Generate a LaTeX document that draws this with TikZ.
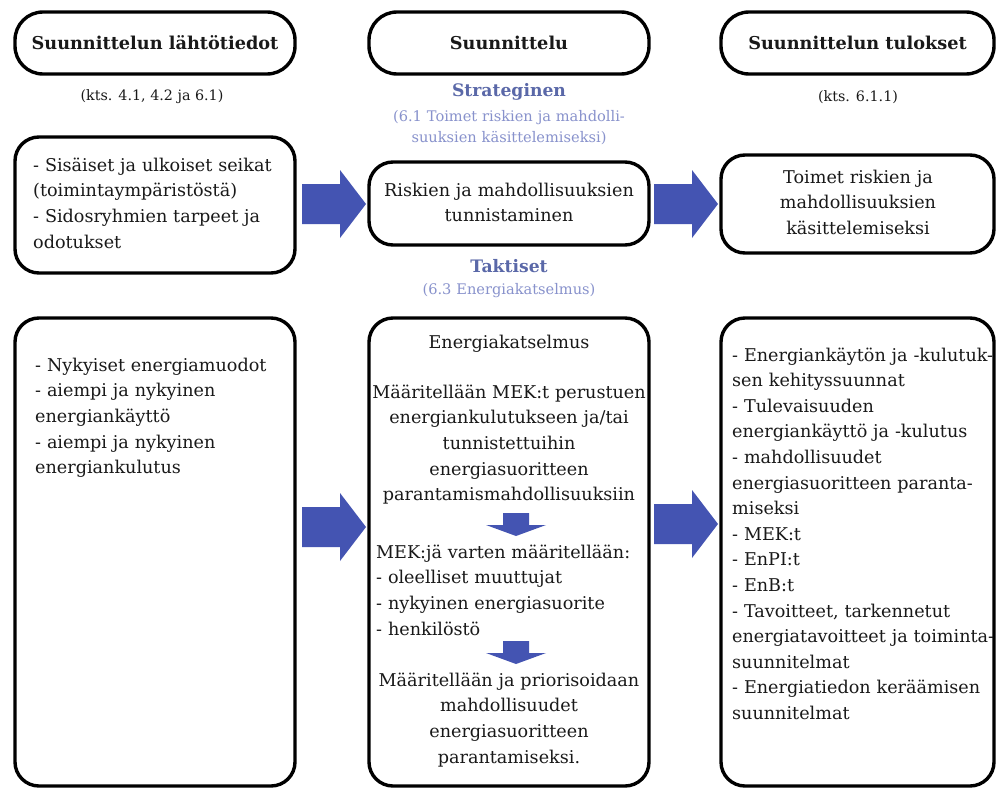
\documentclass[tikz,border=0pt]{standalone}
\usepackage{fontspec}
\setmainfont{DejaVu Serif}
\definecolor{arrowblue}{RGB}{68,84,178}
\definecolor{headblue}{RGB}{90,104,168}
\definecolor{subblue}{RGB}{136,146,204}
\definecolor{ink}{RGB}{25,25,25}
\tikzset{
  blockarrow/.pic={\fill[arrowblue] (-32,-20) -- (6,-20) -- (6,-34) -- (32,0) -- (6,34) -- (6,20) -- (-32,20) -- cycle;},
  downarrow/.pic={\fill[arrowblue] (-13,0) -- (13,0) -- (13,12) -- (30,12) -- (0,23) -- (-30,12) -- (-13,12) -- cycle;}
}
\begin{document}
\begin{tikzpicture}[x=1pt,y=-1pt,
  box/.style={draw=black, line width=3.4pt, rounded corners=24pt, inner sep=0pt},
  ttl/.style={font=\fontsize{17.7}{20}\selectfont\bfseries, text=ink},
  txt/.style={font=\fontsize{17.6}{25.7}\selectfont, inner sep=0pt, text width=300pt, text=ink},
  ctxt/.style={txt, align=center},
  ltxt/.style={txt, align=left},
  ref/.style={font=\fontsize{14.3}{16}\selectfont, inner sep=0pt, text=ink},
  blabel/.style={font=\fontsize{17.2}{20}\selectfont\bfseries, text=headblue, inner sep=0pt},
  sublabel/.style={font=\fontsize{14.6}{21}\selectfont, text=subblue, align=center, text width=300pt, inner sep=0pt}]
\useasboundingbox (0,0) rectangle (996,790);
\fill[white] (0,0) rectangle (996,790);

% headers
\node[box, rounded corners=28pt, minimum width=280pt, minimum height=62pt, ttl] (H1) at (155,43) {Suunnittelun lähtötiedot};
\node[box, rounded corners=28pt, minimum width=280pt, minimum height=62pt, ttl] (H2) at (509,43) {Suunnittelu};
\node[box, rounded corners=28pt, minimum width=273pt, minimum height=62pt, ttl] (H3) at (857.5,43) {Suunnittelun tulokset};

\node[ref] (R1) at (152,97) {(kts. 4.1, 4.2 ja 6.1)};
\node[ref] (R3) at (858,97) {(kts. 6.1.1)};

\node[blabel] (S1) at (509,92) {Strateginen};
\node[sublabel, anchor=base] (S2) at (509,121) {(6.1 Toimet riskien ja mahdolli-\\suuksien käsittelemiseksi)};
\node[blabel] (T1) at (509,266) {Taktiset};
\node[sublabel, anchor=base] (T2) at (509,294) {(6.3 Energiakatselmus)};

% row 2
\node[box, minimum width=280pt, minimum height=136pt] (L2) at (155,205) {};
\node[ltxt, anchor=base west] (L2t) at (33,171) {- Sisäiset ja ulkoiset seikat\\(toimintaympäristöstä)\\- Sidosryhmien tarpeet ja\\odotukset};
\node[box, minimum width=280pt, minimum height=83pt] (M2) at (509,203.5) {};
\node[ctxt, anchor=base] (M2t) at (509,196) {Riskien ja mahdollisuuksien\\tunnistaminen};
\node[box, minimum width=273pt, minimum height=98pt] (R2) at (857.5,204) {};
\node[ctxt, anchor=base] (R2t) at (858,183) {Toimet riskien ja\\mahdollisuuksien\\käsittelemiseksi};

\pic (A1) at (334,204) {blockarrow};
\pic (A2) at (686,204) {blockarrow};

% row 3
\node[box, minimum width=280pt, minimum height=468pt] (L3) at (155,552) {};
\node[ltxt, anchor=base west] (L3t) at (35,371) {- Nykyiset energiamuodot\\- aiempi ja nykyinen\\energiankäyttö\\- aiempi ja nykyinen\\energiankulutus};

\node[box, minimum width=280pt, minimum height=468pt] (M3) at (509,552) {};
\node[ctxt, anchor=base] (M3a) at (509,348) {Energiakatselmus};
\node[ctxt, anchor=base] (M3b) at (509,398) {Määritellään MEK:t perustuen\\energiankulutukseen ja/tai\\tunnistettuihin\\energiasuoritteen\\parantamismahdollisuuksiin};
\pic (D1) at (516,513) {downarrow};
\node[ltxt, anchor=base west] (M3c) at (376,558) {MEK:jä varten määritellään:\\- oleelliset muuttujat\\- nykyinen energiasuorite\\- henkilöstö};
\pic (D2) at (516,641) {downarrow};
\node[ctxt, anchor=base] (M3d) at (509,686) {Määritellään ja priorisoidaan\\mahdollisuudet\\energiasuoritteen\\parantamiseksi.};

\node[box, minimum width=273pt, minimum height=468pt] (R3) at (857.5,552) {};
\node[ltxt, anchor=base west, font=\fontsize{17.6}{25.6}\selectfont] (R3t) at (732,361) {- Energiankäytön ja -kulutuk-\\sen kehityssuunnat\\- Tulevaisuuden\\energiankäyttö ja -kulutus\\- mahdollisuudet\\energiasuoritteen paranta-\\miseksi\\- MEK:t\\- EnPI:t\\- EnB:t\\- Tavoitteet, tarkennetut\\energiatavoitteet ja toiminta-\\suunnitelmat\\- Energiatiedon keräämisen\\suunnitelmat};

\pic (A3) at (334,527) {blockarrow};
\pic (A4) at (686,524) {blockarrow};
\end{tikzpicture}
\end{document}
